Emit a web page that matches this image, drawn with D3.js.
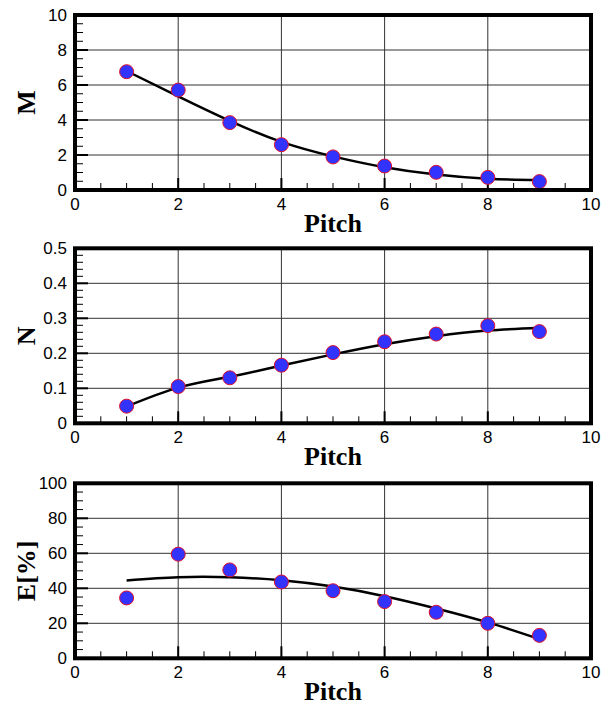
<!DOCTYPE html>
<html>
<head>
<meta charset="utf-8">
<script src="https://cdn.jsdelivr.net/npm/d3@7"></script>
<style>
  body { margin: 0; background: #fff; }
  .tick-label { font-family: "Liberation Sans", Arial, sans-serif; font-size: 17px; fill: #000; }
  .title { font-family: "Liberation Serif", "Times New Roman", serif; font-weight: bold; font-size: 26px; fill: #000; }
</style>
</head>
<body>
<div id="chart"></div>
<script>
// Datos: pitch 1..9
const pitch = [1, 2, 3, 4, 5, 6, 7, 8, 9];

// M
const mPoints = [6.76, 5.71, 3.85, 2.59, 1.89, 1.37, 1.01, 0.72, 0.48];
const mCurve  = [6.8, 5.35, 3.95, 2.75, 1.92, 1.3, 0.88, 0.64, 0.57];

// N
const nPoints = [0.049, 0.105, 0.130, 0.166, 0.202, 0.233, 0.255, 0.279, 0.262];
const nCurve  = [0.048, 0.102, 0.133, 0.165, 0.197, 0.226, 0.249, 0.265, 0.273];

// E [%]
const ePoints = [34.5, 59.5, 50.5, 43.6, 38.6, 32.4, 26.3, 20.0, 13.1];
const eCurve  = [44.5, 46.3, 46.3, 44.6, 41.0, 35.5, 28.5, 20.5, 11.0];

// Ticks
const xTicks = [0, 2, 4, 6, 8, 10];
const mTicks = [0, 2, 4, 6, 8, 10];
const nTicks = [0, 0.1, 0.2, 0.3, 0.4, 0.5];
const eTicks = [0, 20, 40, 60, 80, 100];

const W = 610, H = 705;
const left = 75, right = 591, plotH = 175;

const svg = d3.select("#chart").append("svg")
  .attr("width", W).attr("height", H);

const xScale = d3.scaleLinear().domain([0, 10]).range([left, right]);

function panel(top, yLabel, yTicks, yMax, minorStep, points, curve, fmt) {
  const bottom = top + plotH;
  const y = d3.scaleLinear().domain([0, yMax]).range([bottom, top]);
  const g = svg.append("g");

  // rejilla
  g.selectAll(".vgrid").data(xTicks.filter(d => d > 0 && d < 10)).enter()
    .append("line")
    .attr("x1", d => xScale(d)).attr("x2", d => xScale(d))
    .attr("y1", top).attr("y2", bottom)
    .attr("stroke", "#333").attr("stroke-width", 1);
  g.selectAll(".hgrid").data(yTicks.slice(1, -1)).enter()
    .append("line")
    .attr("x1", left).attr("x2", right)
    .attr("y1", d => y(d)).attr("y2", d => y(d))
    .attr("stroke", "#333").attr("stroke-width", 1);

  // ticks menores
  const xMinor = d3.range(0.5, 10, 0.5).filter(d => d % 2 !== 0);
  g.selectAll(".xminor").data(xMinor).enter().append("line")
    .attr("x1", d => xScale(d)).attr("x2", d => xScale(d))
    .attr("y1", bottom).attr("y2", bottom - 7)
    .attr("stroke", "#000").attr("stroke-width", 1);
  const yMinor = d3.range(0, yMax, minorStep).map(d => +d.toFixed(4))
    .filter(d => !yTicks.some(t => Math.abs(t - d) < 1e-6));
  g.selectAll(".yminor").data(yMinor).enter().append("line")
    .attr("x1", left).attr("x2", left + 8)
    .attr("y1", d => y(d)).attr("y2", d => y(d))
    .attr("stroke", "#000").attr("stroke-width", 1);

  // ticks mayores
  g.selectAll(".xmajor").data(xTicks.slice(1, -1)).enter().append("line")
    .attr("x1", d => xScale(d)).attr("x2", d => xScale(d))
    .attr("y1", bottom).attr("y2", bottom - 12)
    .attr("stroke", "#000").attr("stroke-width", 2);
  g.selectAll(".ymajor").data(yTicks.slice(1, -1)).enter().append("line")
    .attr("x1", left).attr("x2", left + 13)
    .attr("y1", d => y(d)).attr("y2", d => y(d))
    .attr("stroke", "#000").attr("stroke-width", 2);

  // etiquetas
  g.selectAll(".xlab").data(xTicks).enter().append("text")
    .attr("class", "tick-label")
    .attr("x", d => xScale(d)).attr("y", bottom + 20)
    .attr("text-anchor", "middle").text(d => d);
  g.selectAll(".ylab").data(yTicks).enter().append("text")
    .attr("class", "tick-label")
    .attr("x", left - 8).attr("y", d => y(d) + 6)
    .attr("text-anchor", "end").text(fmt);

  // curva ajustada
  const line = d3.line()
    .x((d, i) => xScale(pitch[i]))
    .y(d => y(d))
    .curve(d3.curveNatural);
  g.append("path").datum(curve)
    .attr("d", line)
    .attr("fill", "none").attr("stroke", "#000").attr("stroke-width", 2.5);

  // puntos
  g.selectAll(".dot").data(points).enter().append("circle")
    .attr("cx", (d, i) => xScale(pitch[i]))
    .attr("cy", d => y(d))
    .attr("r", 7)
    .attr("fill", "#3333ff").attr("stroke", "#e0102a").attr("stroke-width", 1);

  // marco
  g.append("rect")
    .attr("x", left).attr("y", top)
    .attr("width", right - left).attr("height", plotH)
    .attr("fill", "none").attr("stroke", "#000").attr("stroke-width", 4);

  // titulos
  g.append("text").attr("class", "title")
    .attr("x", (left + right) / 2).attr("y", bottom + 42)
    .attr("text-anchor", "middle").text("Pitch");
  g.append("text").attr("class", "title")
    .attr("transform", `translate(35,${(top + bottom) / 2}) rotate(-90)`)
    .attr("text-anchor", "middle").text(yLabel);
}

panel(15, "M", mTicks, 10, 0.5, mPoints, mCurve, d => d);
panel(248.3, "N", nTicks, 0.5, 0.02, nPoints, nCurve, d => d === 0 ? "0" : d.toFixed(1));
panel(483.3, "E[%]", eTicks, 100, 5, ePoints, eCurve, d => d);
</script>
</body>
</html>
